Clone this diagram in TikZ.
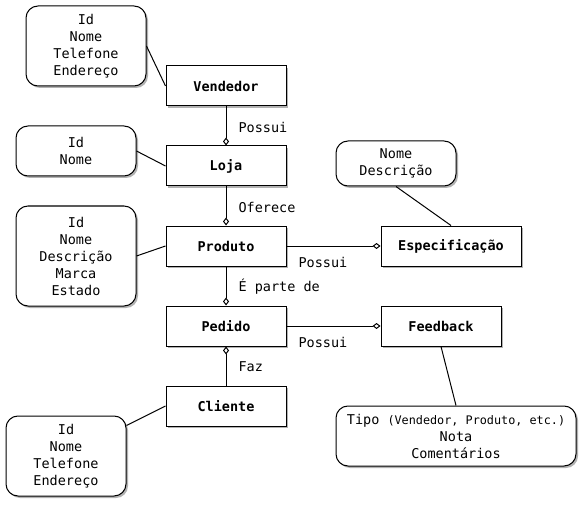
\documentclass[tikz,border=0pt]{standalone}
\usepackage{fontspec}
\setmainfont{DejaVu Sans Mono}
\usetikzlibrary{arrows.meta,shadows,calc}
\begin{document}
\begin{tikzpicture}[x=1pt,y=-1pt,
  line width=1pt,
  font=\fontsize{13.5}{17}\selectfont,
  shd/.style={drop shadow={shadow xshift=2pt, shadow yshift=-2pt, fill=black!30, opacity=1}},
  ent/.style={draw, fill=white, minimum width=120pt, minimum height=40pt, inner sep=0pt,
    font=\fontsize{13.5}{17}\selectfont\bfseries, shd},
  attr/.style={draw, fill=white, rounded corners=12pt, align=center, inner sep=0pt, shd},
  rel/.style={-{Diamond[open,length=8pt,width=6pt,line width=1pt]}},
  lbl/.style={anchor=west, inner sep=0pt}
]
\useasboundingbox (0,0) rectangle (584,508);

% entities
\node[ent] (vend) at (226,86) {Vendedor};
\node[ent] (loja) at (226,166) {Loja};
\node[ent] (prod) at (226,246) {Produto};
\node[ent] (ped) at (226,326) {Pedido};
\node[ent] (cli) at (226,406) {Cliente};
\node[ent, minimum width=140pt] (esp) at (451,246) {Especificação};
\node[ent] (feed) at (441,326) {Feedback};

% attributes
\node[attr, minimum width=120pt, minimum height=80pt] (avend) at (86,46) {Id\\Nome\\Telefone\\Endereço};
\node[attr, minimum width=120pt, minimum height=50pt] (aloja) at (76,151) {Id\\Nome};
\node[attr, minimum width=120pt, minimum height=100pt] (aprod) at (76,256) {Id\\Nome\\Descrição\\Marca\\Estado};
\node[attr, minimum width=120pt, minimum height=45pt] (aesp) at (396,163.5) {Nome\\Descrição};
\node[attr, minimum width=240pt, minimum height=60pt] (afeed) at (456,436) {Tipo {\fontsize{11.8}{17}\selectfont(Vendedor, Produto, etc.)}\\Nota\\Comentários};
\node[attr, minimum width=120pt, minimum height=80pt] (acli) at (66,456) {Id\\Nome\\Telefone\\Endereço};

% attribute links
\draw (avend.east) -- (vend.west);
\draw (aloja.east) -- (loja.west);
\draw (aprod.east) -- (prod.west);
\draw (aesp.south) -- (esp.north);
\draw (feed.south) -- (afeed.north);
\draw ($(acli.north east)+(0,10)$) -- (cli.west);

% relationships
\draw[rel] (vend.south) -- (loja.north);
\draw[rel] (loja.south) -- (prod.north);
\draw[rel] (prod.south) -- (ped.north);
\draw[rel] (cli.north) -- (ped.south);
\draw[rel] (prod.east) -- (esp.west);
\draw[rel] (ped.east) -- (feed.west);

% labels
\node[lbl] (l1) at (238,127) {Possui};
\node[lbl] (l2) at (238,207) {Oferece};
\node[lbl] (l3) at (238,287) {É parte de};
\node[lbl] (l4) at (238,367) {Faz};
\node[lbl] (l5) at (298,262) {Possui};
\node[lbl] (l6) at (298,342) {Possui};
\end{tikzpicture}
\end{document}
